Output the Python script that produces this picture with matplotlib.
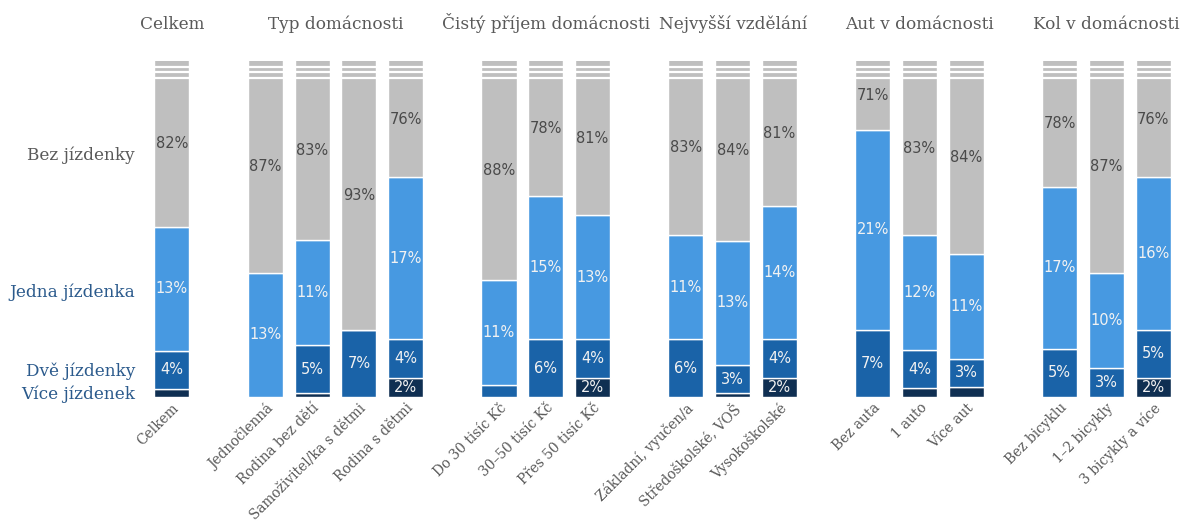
import matplotlib.pyplot as plt
import matplotlib.transforms as mtransforms
import numpy as np

# Groups of categories (the bars) and their titles
groups = ["Celkem", "Typ domácnosti", "Čistý příjem domácnosti",
          "Nejvyšší vzdělání", "Aut v domácnosti", "Kol v domácnosti"]
group_sizes = [1, 4, 3, 3, 3, 3]
categories = ["Celkem",
              "Jednočlenná", "Rodina bez dětí", "Samoživitel/ka s dětmi", "Rodina s dětmi",
              "Do 30 tisíc Kč", "30–50 tisíc Kč", "Přes 50 tisíc Kč",
              "Základní, vyučen/a", "Středoškolské, VOŠ", "Vysokoškolské",
              "Bez auta", "1 auto", "Více aut",
              "Bez bicyklu", "1–2 bicykly", "3 bicykly a více"]

# Shares in % (small unlabeled pieces)
vice = np.array([0.8, 0, 0.4, 0, 2, 0, 0, 2, 0, 0.35, 2, 0, 0.9, 1.0, 0, 0, 2])
dve = np.array([4, 0, 5, 7, 4, 1.2, 6, 4, 6, 3, 4, 7, 4, 3, 5, 3, 5])
jedna = np.array([13, 13, 11, 0, 17, 11, 15, 13, 11, 13, 14, 21, 12, 11, 17, 10, 16])
bez = np.array([82, 87, 83, 93, 76, 88, 78, 81, 83, 84, 81, 71, 83, 84, 78, 87, 76])

series_names = ["Více jízdenek", "Dvě jízdenky", "Jedna jízdenka", "Bez jízdenky"]
colors = ["#0f2f52", "#1a63a8", "#4799e1", "#bfbfbf"]

# x positions: one empty slot between groups
x = []
pos = 0
for n in group_sizes:
    x.extend(range(pos, pos + n))
    pos += n + 1
x = np.array(x)

ytop = 35.2  # axis is cut here, gray bars run past it

fig, ax = plt.subplots(figsize=(11.81, 5.21), dpi=100)
fig.subplots_adjust(left=0.1258, right=0.9962, bottom=0.2386, top=0.883)

bottom = np.zeros(len(x))
for vals, col, name in zip([vice, dve, jedna, bez], colors, series_names):
    ax.bar(x, vals, 0.75, bottom=bottom, color=col, edgecolor="white", linewidth=1)
    for xi, b, v in zip(x, bottom, vals):
        if v < 1.5:
            continue
        if name == "Bez jízdenky":
            yy = (b + ytop) / 2
            tc = "#4a4a4a"
        else:
            yy = b + v / 2
            tc = "#f2f2f2"
        ax.text(xi, yy, f"{v:.0f}%", ha="center", va="center", color=tc,
                fontsize=10.5, family="DejaVu Sans")
    bottom = bottom + vals

# break marks at the top of the bars
for yy in [34.6, 34.07, 33.44]:
    ax.axhline(yy, color="white", lw=1.6)

ax.set_xlim(-0.5, 21.5)
ax.set_ylim(0, ytop)
for s in ax.spines.values():
    s.set_visible(False)
ax.set_yticks([])
ax.set_xticks(x)
ax.set_xticklabels(categories, rotation=45, ha="right", rotation_mode="anchor",
                   color="#595959", fontsize=11, family="DejaVu Serif",
                   fontstretch="condensed")
ax.tick_params(axis="x", length=0, pad=3)

# group titles
trans = mtransforms.blended_transform_factory(ax.transData, ax.transAxes)
start = 0
for g, n in zip(groups, group_sizes):
    cx = x[start:start + n].mean()
    ax.text(cx, 1.094, g, transform=trans, ha="center", va="baseline",
            color="#595959", fontsize=12.2, family="DejaVu Serif")
    start += n

# series names on the left
trans2 = mtransforms.blended_transform_factory(ax.transAxes, ax.transData)
left_y = [0.3, 2.7, 11.0, 25.3]
left_c = ["#2b5a8c", "#2b5a8c", "#2b5a8c", "#595959"]
for name, yy, c in zip(series_names, left_y, left_c):
    ax.text(-0.0132, yy, name, transform=trans2, ha="right", va="center",
            color=c, fontsize=12.2, family="DejaVu Serif")

fig.savefig("out.png", dpi=100)
